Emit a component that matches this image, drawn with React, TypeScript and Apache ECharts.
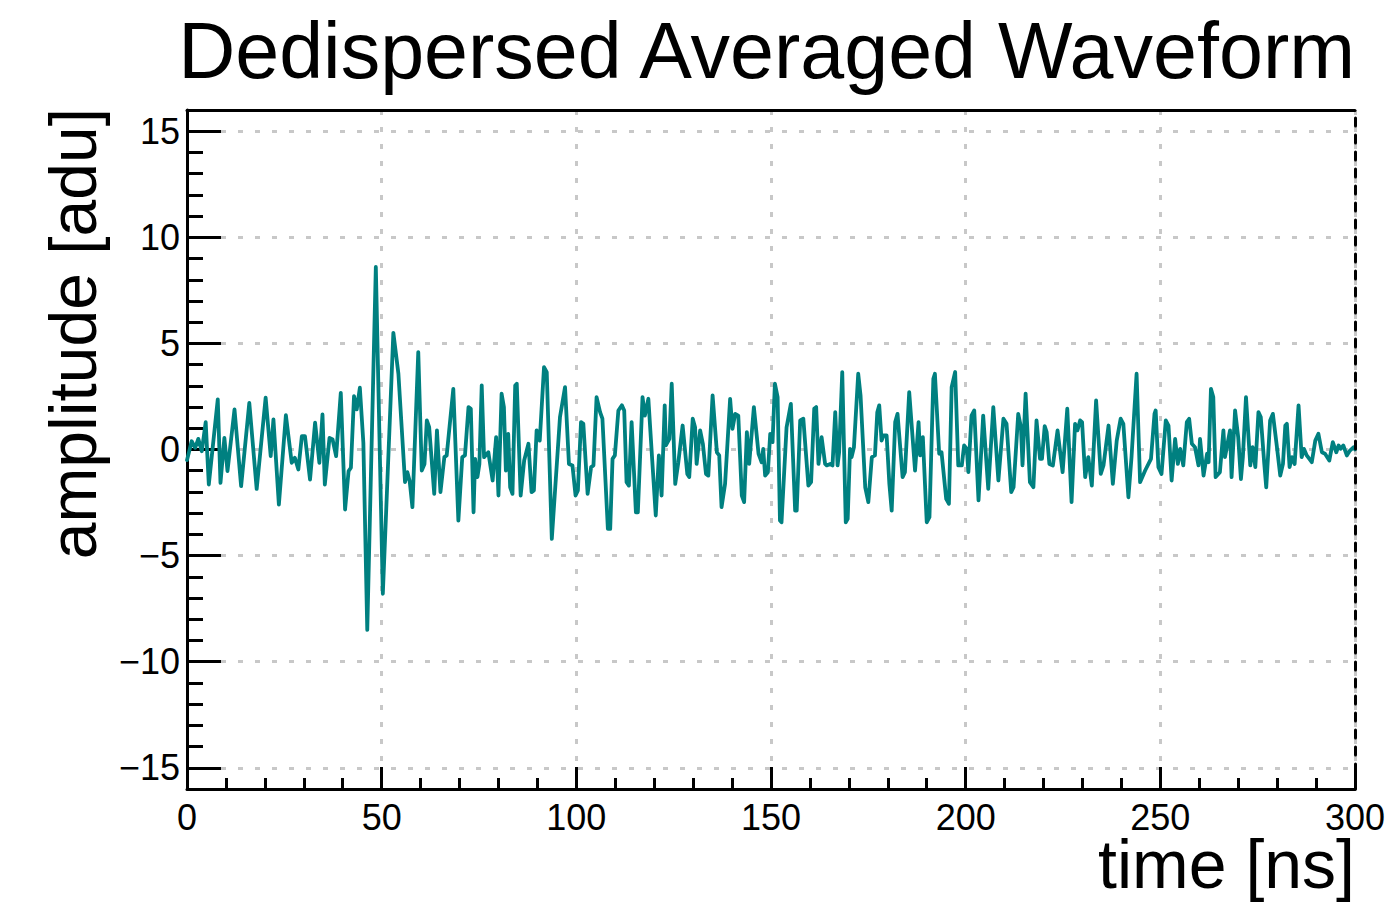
import React, { useEffect, useRef } from 'react';
import * as echarts from 'echarts';

const timeNs = [
  0, 1.2, 2.1, 2.9, 3.8, 4.8, 5.6, 7.9, 8.6, 9.6, 10.4, 12.2, 13.9, 16.0, 17.9, 20.2, 21.5, 22.2, 23.6, 25.4,
  26.9, 27.7, 28.6, 29.5, 30.3, 31.6, 32.9, 34.0, 34.8, 35.4, 36.6, 37.4, 38.3, 39.5, 40.6, 41.5, 42.1, 42.9, 43.6, 44.4,
  45.3, 46.3, 48.5, 50.3, 53.0, 54.3, 56.0, 56.6, 57.2, 57.9, 59.4, 60.3, 61.0, 61.6, 62.2, 63.5, 64.2, 65.1, 66.1, 66.7,
  68.4, 69.7, 70.7, 71.4, 72.3, 72.9, 73.6, 74.0, 74.6, 75.1, 75.7, 76.3, 77.4, 78.5, 79.4, 80.0, 80.8, 81.4, 81.9, 82.5,
  83.0, 83.6, 84.3, 84.7, 85.7, 86.6, 87.7, 88.5, 89.1, 89.8, 90.6, 91.7, 92.4, 93.7, 95.8, 97.1, 98.1, 99.0, 99.8, 100.4,
  101.2, 101.8, 102.9, 103.8, 104.4, 105.2, 106.1, 106.7, 108.1, 108.7, 109.3, 109.9, 110.8, 111.7, 112.3, 112.9, 113.5, 114.2, 115.3, 115.8,
  117.0, 117.6, 118.5, 119.5, 120.4, 121.2, 121.9, 122.7, 123.0, 123.9, 124.5, 125.4, 126.2, 127.3, 128.5, 129.0, 129.9, 130.5, 130.9, 131.8,
  132.5, 133.3, 133.9, 135.0, 136.1, 136.7, 137.3, 138.2, 139.5, 140.1, 140.8, 141.6, 142.5, 143.1, 143.8, 144.4, 145.6, 146.8, 147.6, 148.0,
  148.5, 149.2, 149.8, 150.4, 151.0, 151.7, 152.3, 152.7, 154.0, 155.1, 156.2, 156.6, 157.5, 158.3, 159.6, 160.3, 161.1, 161.6, 162.2, 163.0,
  163.9, 164.3, 165.2, 165.8, 166.5, 167.1, 167.5, 168.3, 169.2, 169.7, 170.3, 170.7, 171.3, 172.4, 173.0, 174.2, 175.0, 175.9, 176.7, 177.3,
  177.8, 178.4, 178.9, 179.7, 180.4, 181.0, 181.9, 182.5, 183.8, 184.4, 185.5, 187.0, 187.9, 188.3, 189.0, 190.0, 190.7, 191.7, 192.1, 193.2,
  193.8, 195.0, 195.7, 196.4, 197.3, 198.1, 199.0, 199.6, 200.3, 200.7, 201.5, 202.2, 203.3, 204.5, 205.8, 207.1, 208.4, 209.7, 210.5, 211.7,
  212.3, 213.5, 214.2, 214.6, 215.4, 216.5, 217.4, 218.2, 219.1, 219.6, 220.3, 220.8, 221.5, 222.4, 223.6, 224.9, 226.1, 227.2, 228.1, 228.7,
  229.4, 229.9, 230.7, 231.5, 232.4, 233.5, 234.7, 235.4, 236.7, 237.8, 238.8, 239.8, 240.5, 241.8, 242.6, 243.9, 244.8, 246.1, 247.6, 248.5,
  248.8, 249.5, 250.3, 251.4, 252.1, 252.9, 253.8, 254.5, 255.1, 255.9, 256.8, 257.4, 258.1, 258.9, 259.8, 260.2, 261.1, 262.0, 262.4, 263.0,
  263.6, 264.2, 265.3, 266.2, 266.6, 267.9, 268.3, 269.2, 270.0, 270.7, 271.2, 272.0, 273.1, 273.7, 274.4, 275.2, 275.8, 276.7, 277.2, 278.2,
  278.9, 279.9, 280.8, 281.5, 282.1, 282.5, 283.2, 283.8, 284.5, 285.5, 286.3, 286.9, 287.6, 288.9, 289.8, 290.6, 291.5, 292.3, 293.4, 294.3,
  295.2, 295.8, 296.3, 297.0, 297.9, 298.7, 299.6, 300
];

const amplitudeAdu = [
  -0.5, 0.39, 0.08, 0.5, -0.08, 1.29, -1.65, 2.36, -1.57, 0.55, -1.02, 1.89, -1.73, 2.2, -1.86, 2.44, -0.31, 1.42, -2.6, 1.62,
  -0.63, -0.39, -0.94, 0.63, 0.63, -1.42, 1.26, -0.63, 1.65, -1.65, 0.55, 0.47, -0.31, 2.67, -2.83, -1.02, -0.86, 2.52, 1.89, 2.91,
  0.31, -8.5, 8.6, -6.8, 5.5, 3.57, -1.54, -1.07, -1.5, -2.72, 4.59, -0.99, -0.68, 1.37, 1.05, -2.09, 0.9, -2.01, -0.36, -0.28,
  2.86, -3.35, -0.36, -0.28, 2.0, 1.92, -2.96, -0.44, -1.3, -0.68, 3.02, -0.36, -0.13, -1.46, 0.58, -2.17, 2.63, 2.0, -0.99, 0.74,
  -1.78, -2.09, 3.02, 3.1, -2.17, -0.52, 0.27, -2.01, -1.93, 0.9, 0.42, 3.88, 3.65, -4.21, 1.53, 2.94, -0.68, -0.75, -2.17, -1.93,
  1.29, 1.21, -2.09, -0.83, -0.75, 2.47, 1.76, 1.45, -3.74, -3.74, -0.44, -0.28, 1.84, 2.08, 1.84, -1.54, -1.7, 1.29, -2.96, -2.96,
  2.47, 1.6, 2.39, -0.52, -3.11, -0.28, -2.17, 2.08, 0.19, 0.5, 3.1, -1.62, -0.6, 1.13, -1.15, -1.3, 1.45, 1.05, -0.68, 0.9,
  0.27, -1.15, -1.23, 2.55, -0.13, -0.28, -2.72, -1.62, 2.39, 0.97, 1.68, 1.6, -2.17, -2.48, 0.82, -0.68, 2.0, -0.2, -0.6, 0.03,
  -1.23, -1.07, 0.74, 0.35, 3.1, 2.47, -3.35, -3.43, 1.05, 2.15, -2.88, -2.88, 1.37, 1.45, -1.7, -1.54, 1.92, 2.0, -0.68, 0.58,
  -0.68, -0.75, -0.68, -0.75, 1.76, -0.75, -0.13, 3.65, -3.43, -3.27, 0.03, -0.36, 0.1, 3.57, 2.55, -1.78, -2.48, -0.36, -0.28, 1.76,
  2.08, 0.42, 0.66, 0.66, -1.62, -2.88, 1.29, 1.68, -1.3, -1.07, 2.7, -0.99, 1.29, -0.28, 0.58, -3.43, -3.19, 3.33, 3.57, -0.2,
  -0.13, -2.33, -2.56, 2.94, 3.65, -0.75, -0.75, 0.19, 0.03, -1.07, 1.6, 1.84, -2.4, 1.6, -1.86, 2.0, -1.46, 1.45, 1.21, -2.01,
  -1.78, 1.68, 1.05, -0.75, 2.63, -1.54, -1.78, 1.37, -0.44, -0.44, 1.1, 0.82, -0.68, -0.75, 0.9, -1.07, 1.92, -2.48, 1.21, 0.9,
  1.37, 1.29, -1.3, -0.36, -1.7, 2.31, -1.15, -0.75, 1.13, -1.62, 0.42, 1.45, 1.21, -2.25, -0.36, 3.57, -1.54, -0.99, -0.44, 1.68,
  1.84, -0.83, -1.15, 1.37, 1.13, -1.46, 0.5, -0.68, 0.03, -0.75, 1.29, 1.45, 0.27, 0.11, -0.75, 0.5, -1.23, -0.2, -0.6, 2.86,
  2.47, -1.3, -1.07, 0.9, -0.36, 0.9, -1.3, 1.84, 0.58, -1.4, -0.36, 2.47, -0.75, 0.11, -0.83, 1.76, 1.53, -0.68, -1.78, 1.37,
  1.68, 0.19, -1.23, -0.68, 1.13, 1.21, -0.83, -0.36, -0.68, 2.08, -0.36, 0.03, -0.28, -0.6, 0.42, 0.74, -0.13, -0.2, -0.52, 0.35,
  -0.13, 0.19, 0.03, 0.19, -0.28, -0.05, 0.1, 0.0
];

const xTickValues = [0, 50, 100, 150, 200, 250, 300];
const yMajorTickValues = [-15, -10, -5, 0, 5, 10, 15];
const titleText = 'Dedispersed Averaged Waveform';
const xTitle = 'time [ns]';
const yTitle = 'amplitude [adu]';

export default function App() {
  const ref = useRef<HTMLDivElement>(null);
  useEffect(() => {
    const chart = echarts.init(ref.current!, null, { renderer: 'svg' });
    const FONT = "'Liberation Sans', Arial, Helvetica, sans-serif";
    const data = timeNs.map((t, i) => [t, amplitudeAdu[i]]);
    const gridDot = { color: '#c8c8c8', width: 3, type: [5, 12] };
    const black = { color: '#000', width: 3 };
    const fmt = (v: number) => (v < 0 ? '\u2212' + Math.abs(v) : String(v));
    chart.setOption({
      animation: false,
      backgroundColor: '#ffffff',
      grid: { left: 187, top: 110, width: 1168, height: 679, containLabel: false },
      xAxis: [
        {
          type: 'value', min: 0, max: 300, interval: 50, position: 'bottom', z: 1,
          axisLine: { show: true, onZero: false, lineStyle: black },
          axisTick: { show: true, inside: true, length: 22, lineStyle: black },
          minorTick: { show: true, splitNumber: 5, length: 11, lineStyle: black },
          axisLabel: {
            margin: 10, color: '#000', fontSize: 36, fontFamily: FONT,
            showMinLabel: true, showMaxLabel: true,
            customValues: xTickValues,
          },
          splitLine: { show: true, lineStyle: gridDot },
        },
        {
          type: 'value', min: 0, max: 300, position: 'top', z: 4,
          axisLine: { show: true, onZero: false, lineStyle: black },
          axisTick: { show: false }, axisLabel: { show: false }, splitLine: { show: false },
        },
      ],
      yAxis: [
        {
          type: 'value', min: -16, max: 16, position: 'left', z: 1,
          axisLine: { show: true, onZero: false, lineStyle: black },
          axisTick: { show: true, inside: true, length: 34, lineStyle: black, customValues: yMajorTickValues },
          axisLabel: {
            margin: 7, color: '#000', fontSize: 36, fontFamily: FONT,
            customValues: yMajorTickValues, formatter: fmt,
          },
          splitLine: { show: true, lineStyle: gridDot },
        },
        {
          type: 'value', min: -16, max: 16, interval: 1, position: 'left', z: 2,
          axisLine: { show: false },
          axisTick: { show: true, inside: true, length: 16, lineStyle: black },
          axisLabel: { show: false }, splitLine: { show: false },
        },
        {
          type: 'value', min: -16, max: 16, position: 'right', z: 4,
          axisLine: { show: true, onZero: false, lineStyle: { color: '#000', width: 3, type: [8, 9] } },
          axisTick: { show: false }, axisLabel: { show: false }, splitLine: { show: false },
        },
      ],
      series: [
        {
          type: 'line', xAxisIndex: 0, yAxisIndex: 0, data, showSymbol: false, symbol: 'none',
          lineStyle: { color: '#008080', width: 3.8, join: 'round', cap: 'round' }, z: 3, clip: true,
        },
      ],
      graphic: [
        {
          type: 'text', x: 1355, y: 50,
          style: { text: titleText, font: `79px ${FONT}`, fill: '#000', align: 'right', verticalAlign: 'middle' },
        },
        {
          type: 'text', x: 1355, y: 864,
          style: { text: xTitle, font: `68px ${FONT}`, fill: '#000', align: 'right', verticalAlign: 'middle' },
        },
        {
          type: 'text', x: 73, y: 108, rotation: Math.PI / 2,
          style: { text: yTitle, font: `66px ${FONT}`, fill: '#000', align: 'right', verticalAlign: 'middle' },
        },
      ],
    });
    return () => chart.dispose();
  }, []);
  return <div ref={ref} style={{ position: 'absolute', left: 0, top: 0, width: 1394, height: 902 }} />;
}
